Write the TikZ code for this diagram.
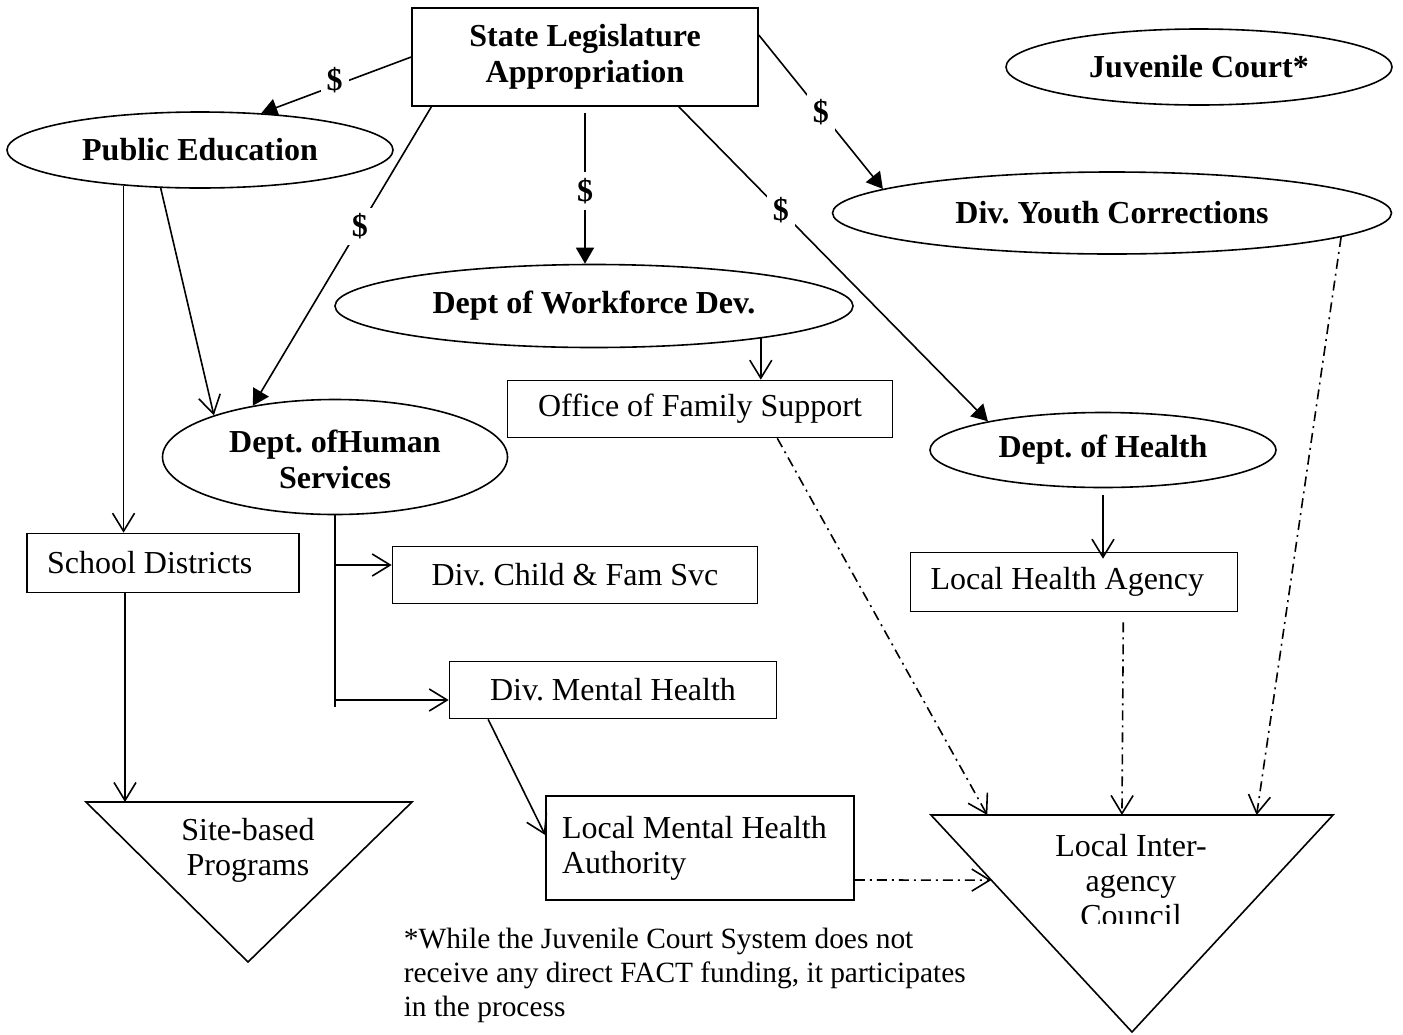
\documentclass[tikz,border=0pt]{standalone}
\usepackage{fontspec}
\setmainfont{Liberation Serif}
\usetikzlibrary{arrows.meta,calc,shapes.geometric}
\frenchspacing

\begin{document}
\begin{tikzpicture}[x=0.5pt, y=-0.5pt, line width=0.8pt,
  font=\fontsize{16}{17.5}\selectfont,
  box/.style={draw, rectangle, inner sep=0pt, align=center},
  leftbox/.style={draw, rectangle, inner xsep=10pt, inner ysep=0pt, align=flush left},
  oval/.style={draw, ellipse, inner sep=0pt, align=center, font=\fontsize{16}{18}\selectfont\bfseries},
  fund/.style={-{Triangle[length=8pt, width=9pt]}},
  feed/.style={-{Straight Barb[length=9pt, width=11pt]}},
  loose/.style={feed, dash pattern=on 5pt off 2.5pt on 1pt off 2.5pt},
  cash/.style={fill=white, inner sep=3pt, font=\fontsize{16}{17.5}\selectfont\bfseries}]
\useasboundingbox (0,0) rectangle (1403,1034);

% Funding source and state agencies
\node[box, font=\fontsize{16}{18}\selectfont\bfseries, minimum width=173pt, minimum height=49pt] (leg) at (585,57) {State Legislature\\Appropriation};
\node[oval, minimum width=193pt, minimum height=38pt] (juv) at (1199,67) {Juvenile Court*};
\node[oval, minimum width=193pt, minimum height=38pt] (pubed) at (200,150) {Public Education};
\node[oval, minimum width=279.5pt, minimum height=41pt] (dyc) at (1112,213) {Div. Youth Corrections};
\node[oval, minimum width=259pt, minimum height=41.5pt] (dwd) at (594,306) {Dept of Workforce Dev.};
\node[oval, minimum width=172.5pt, minimum height=57.5pt] (dhs) at (335,457) {\rule{0pt}{14pt}Dept. ofHuman\\Services};
\node[oval, minimum width=173pt, minimum height=37.5pt] (doh) at (1103,450) {Dept. of Health};

% Divisions and local agencies
\node[box, minimum width=192.5pt, minimum height=28.5pt] (ofs) at (700,409) {Office of Family Support};
\node[leftbox, text width=116pt, minimum height=29.5pt] (sd) at (163,563) {School Districts};
\node[box, minimum width=182.5pt, minimum height=28.5pt] (dcfs) at (575,575) {Div. Child \& Fam Svc};
\node[leftbox, text width=143.5pt, minimum height=29.5pt] (lha) at (1074,582) {Local Health Agency};
\node[box, minimum width=163.5pt, minimum height=28.5pt] (dmh) at (613,690) {Div. Mental Health};
\node[leftbox, inner xsep=8pt, text width=138pt, minimum height=52pt] (lmha) at (700,848) {Local Mental Health\\Authority};

% Inverted triangles
\coordinate (siteL) at (86,802);
\coordinate (siteR) at (412,802);
\coordinate (siteB) at (248,962);
\draw (siteL) -- (siteR) -- (siteB) -- cycle;
\node[align=center] (site) at (248,850) {Site-based\\Programs};

\coordinate (liacL) at (931,815);
\coordinate (liacR) at (1333,815);
\coordinate (liacB) at (1132,1032);
\draw (liacL) -- (liacR) -- (liacB) -- cycle;
\begin{scope}
\clip (940,825) rectangle (1320,923);
\node[align=center] (liac) at (1131,881) {Local Inter-\\agency\\Council};
\end{scope}

% Footnote
\node[align=left, anchor=west, inner sep=0pt, font=\fontsize{14.7}{17}\selectfont] (note) at (403,975) {*While the Juvenile Court System does not\\receive any direct FACT funding, it participates\\in the process};

% Appropriations
\draw[fund] (leg.west) -- node[cash, pos=0.51, yshift=3pt] {\$} (pubed.31);
\draw[fund] ($(leg.south west)!0.058!(leg.south east)$) -- node[cash, pos=0.4] {\$} (dhs.148);
\draw[fund] ([yshift=-3pt]leg.south) -- node[cash, pos=0.52] {\$} (leg.south |- dwd.north);
\draw[fund] ($(leg.south west)!0.77!(leg.south east)$) -- node[cash, pos=0.33] {\$} (doh.166);
\draw[fund] ([yshift=11pt]leg.east) -- node[cash, pos=0.5] {\$} (dyc.174);

% Agency to division links
\draw[feed] (pubed.205) -- (pubed.205 |- sd.north);
\draw[feed] (pubed.224) -- (dhs.161);
\draw[feed] (dwd.-11) -- (dwd.-11 |- ofs.north);
\draw[feed] ([yshift=-3.5pt]doh.south) -- ([yshift=-3.5pt]doh.south |- lha.north);
\draw[feed] ([xshift=-19pt]sd.south) -- ([xshift=-19pt]sd.south |- siteL);
\draw[feed] ($(dmh.south west)!0.12!(dmh.south east)$) -- ([yshift=6.5pt]lmha.west);

% Human services branches
\coordinate (hsbase) at (335,707);
\coordinate (dcfsin) at ([yshift=5pt]dcfs.west);
\coordinate (dmhin) at ([yshift=-5pt]dmh.west);
\draw (dhs.south) -- (hsbase);
\draw[feed] (dhs.south |- dcfsin) -- (dcfsin);
\draw[feed] (dhs.south |- dmhin) -- (dmhin);

% Links to the local council
\draw[loose] ($(ofs.south west)!0.70!(ofs.south east)$) -- ($(liacL)!0.14!(liacR)$);
\draw[loose] ([yshift=-5pt]$(lha.south west)!0.65!(lha.south east)$) -- ($(liacL)!0.475!(liacR)$);
\draw[loose] (dyc.-6) -- ($(liacL)!0.81!(liacR)$);
\draw[loose] ([yshift=-16pt]lmha.east) -- ($(liacL)!0.3!(liacB)$);
\end{tikzpicture}
\end{document}
